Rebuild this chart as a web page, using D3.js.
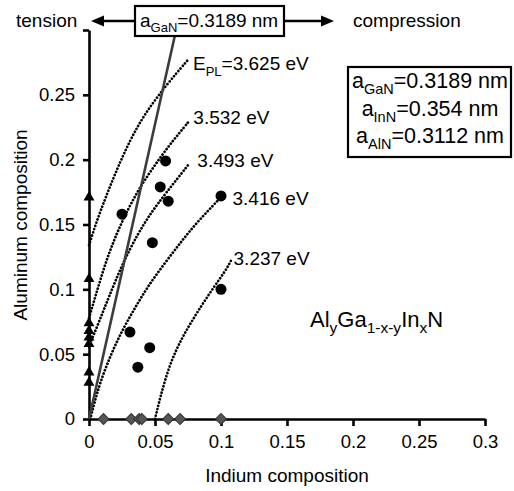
<!DOCTYPE html>
<html>
<head>
<meta charset="utf-8">
<script src="https://cdn.jsdelivr.net/npm/d3@7"></script>
<style>
  body { margin: 0; background: #fff; }
  svg text { font-family: "Liberation Sans", Arial, sans-serif; fill: #000; }
</style>
</head>
<body>
<svg id="chart" width="514" height="491"></svg>
<script>
// ---- data ----
const xTicks = [0, 0.05, 0.1, 0.15, 0.2, 0.25, 0.3];
const xTickLabels = ["0", "0.05", "0.1", "0.15", "0.2", "0.25", "0.3"];
const yTicks = [0, 0.05, 0.1, 0.15, 0.2, 0.25, 0.3];
const yTickLabels = ["0", "0.05", "0.1", "0.15", "0.2", "0.25", ""];

// AlInGaN samples (circles)
const quatIn = [0.058, 0.054, 0.060, 0.025, 0.100, 0.048, 0.031, 0.046, 0.037, 0.100];
const quatAl = [0.199, 0.179, 0.168, 0.158, 0.172, 0.136, 0.067, 0.055, 0.040, 0.100];
// AlGaN samples (triangles, In = 0)
const alganAl = [0.171, 0.108, 0.074, 0.068, 0.063, 0.058, 0.036, 0.028];
// InGaN samples (diamonds, Al = 0)
const inganIn = [0.011, 0.032, 0.038, 0.040, 0.060, 0.069, 0.100];

// lattice matched to GaN
const matchIn = [0, 0.066];
const matchAl = [0, 0.3];

// iso-PL-energy curves
const energies = ["3.625", "3.532", "3.493", "3.416", "3.237"];
const curve3625 = [[0, 0.134], [0.005, 0.150], [0.010, 0.164], [0.020, 0.190], [0.031, 0.215], [0.042, 0.235], [0.058, 0.257], [0.075, 0.277]];
const curve3532 = [[0, 0.078], [0.005, 0.095], [0.012, 0.119], [0.020, 0.141], [0.030, 0.163], [0.040, 0.181], [0.050, 0.196], [0.060, 0.210], [0.068, 0.220], [0.076, 0.230]];
const curve3493 = [[0, 0.056], [0.008, 0.076], [0.015, 0.094], [0.025, 0.119], [0.037, 0.143], [0.047, 0.159], [0.058, 0.174], [0.076, 0.197]];
const curve3416 = [[0.001, 0], [0.004, 0.012], [0.008, 0.027], [0.017, 0.051], [0.026, 0.070], [0.035, 0.086], [0.045, 0.103], [0.058, 0.121], [0.070, 0.137], [0.082, 0.152], [0.100, 0.171]];
const curve3237 = [[0.050, 0], [0.054, 0.017], [0.061, 0.042], [0.070, 0.062], [0.080, 0.079], [0.090, 0.095], [0.099, 0.108], [0.105, 0.117], [0.108, 0.123]];
const curves = [curve3625, curve3532, curve3493, curve3416, curve3237];

// ---- chart ----
const svg = d3.select("#chart");
const FONT = 19;

const x = d3.scaleLinear().domain([0, 0.3]).range([89, 485]);
const y = d3.scaleLinear().domain([0, 0.3]).range([419, 30]);

// writes text made of normal / subscript pieces
function richText(textSel, parts, size, subSize) {
  let shifted = false;
  parts.forEach(p => {
    const isSub = p[1] === "sub";
    const ts = textSel.append("tspan").text(p[0])
      .attr("font-size", isSub ? subSize : size);
    if (isSub && !shifted) { ts.attr("dy", size * 0.28); shifted = true; }
    else if (!isSub && shifted) { ts.attr("dy", -size * 0.28); shifted = false; }
  });
  return textSel;
}

// axes
const xAxis = svg.append("g")
  .attr("transform", `translate(0,${y(0)})`)
  .call(d3.axisBottom(x).tickValues(xTicks).tickFormat((d, i) => xTickLabels[i])
    .tickSize(7).tickSizeOuter(0).tickPadding(9));

const yAxis = svg.append("g")
  .attr("transform", `translate(${x(0)},0)`)
  .call(d3.axisLeft(y).tickValues(yTicks).tickFormat((d, i) => yTickLabels[i])
    .tickSize(6).tickSizeOuter(0).tickPadding(8));

[xAxis, yAxis].forEach(a => {
  a.select(".domain").attr("stroke", "#000").attr("stroke-width", 2.6);
  a.selectAll(".tick line").attr("stroke", "#000").attr("stroke-width", 2.6);
  a.selectAll(".tick text").attr("font-size", 18.5)
    .style("font-family", "'Liberation Sans', Arial, sans-serif");
});

// axis titles
svg.append("text")
  .attr("x", 287).attr("y", 482)
  .attr("text-anchor", "middle")
  .attr("font-size", FONT)
  .text("Indium composition");

svg.append("text")
  .attr("transform", "translate(27,225) rotate(-90)")
  .attr("text-anchor", "middle")
  .attr("font-size", FONT)
  .text("Aluminum composition");

// dotted iso-energy curves
const curveLine = d3.line()
  .x(d => x(d[0]))
  .y(d => y(d[1]))
  .curve(d3.curveBasis);

svg.append("g").selectAll("path")
  .data(curves)
  .enter().append("path")
  .attr("d", curveLine)
  .attr("fill", "none")
  .attr("stroke", "#000")
  .attr("stroke-width", 2.7)
  .attr("stroke-linecap", "round")
  .attr("stroke-dasharray", "0.1,3.3");

// curve labels, placed next to the end of each curve
const labelOffsets = [[5, 10.5], [4, 3], [8, 3.5], [11.5, 8], [2, 5]];
curves.forEach((c, i) => {
  const end = c[c.length - 1];
  const t = svg.append("text")
    .attr("x", x(end[0]) + labelOffsets[i][0])
    .attr("y", y(end[1]) + labelOffsets[i][1])
    .attr("font-size", FONT);
  if (i === 0) {
    richText(t, [["E"], ["PL", "sub"], [`=${energies[i]} eV`]], FONT, 13);
  } else {
    t.text(`${energies[i]} eV`);
  }
});

// line lattice-matched to GaN
svg.append("line")
  .attr("x1", x(matchIn[0])).attr("y1", y(matchAl[0]))
  .attr("x2", x(matchIn[1])).attr("y2", y(matchAl[1]))
  .attr("stroke", "#3c3c3c")
  .attr("stroke-width", 2.6);

// AlGaN triangles on the y axis
svg.append("g").selectAll("path")
  .data(alganAl)
  .enter().append("path")
  .attr("d", d3.symbol(d3.symbolTriangle, 52))
  .attr("transform", d => `translate(${x(0)},${y(d)})`)
  .attr("fill", "#000");

// InGaN diamonds on the x axis
svg.append("g").selectAll("path")
  .data(inganIn)
  .enter().append("path")
  .attr("d", d3.symbol(d3.symbolSquare, 60))
  .attr("transform", d => `translate(${x(d)},${y(0)}) rotate(45)`)
  .attr("fill", "#555")
  .attr("stroke", "#333")
  .attr("stroke-width", 1);

// AlInGaN circles
svg.append("g").selectAll("circle")
  .data(quatIn)
  .enter().append("circle")
  .attr("cx", d => x(d))
  .attr("cy", (d, i) => y(quatAl[i]))
  .attr("r", 5.5)
  .attr("fill", "#000");

// top: tension <- box -> compression
const arrowY = 21;
svg.append("text").attr("x", 16).attr("y", 27).attr("font-size", FONT).text("tension");
svg.append("text").attr("x", 353).attr("y", 27).attr("font-size", FONT).text("compression");

svg.append("line").attr("x1", 135).attr("x2", 100).attr("y1", arrowY).attr("y2", arrowY)
  .attr("stroke", "#000").attr("stroke-width", 2.6);
svg.append("path").attr("d", `M91,${arrowY} L104,${arrowY - 5.5} L104,${arrowY + 5.5} Z`).attr("fill", "#000");
svg.append("line").attr("x1", 284).attr("x2", 322).attr("y1", arrowY).attr("y2", arrowY)
  .attr("stroke", "#000").attr("stroke-width", 2.6);
svg.append("path").attr("d", `M334,${arrowY} L321,${arrowY - 5.5} L321,${arrowY + 5.5} Z`).attr("fill", "#000");

svg.append("rect")
  .attr("x", 135).attr("y", 6).attr("width", 149).attr("height", 30)
  .attr("fill", "#fff").attr("stroke", "#000").attr("stroke-width", 2.2);
richText(svg.append("text").attr("x", 140).attr("y", 27).attr("font-size", FONT),
  [["a"], ["GaN", "sub"], ["=0.3189 nm"]], FONT, 13);

// lattice constants box
svg.append("rect")
  .attr("x", 348).attr("y", 67).attr("width", 163).attr("height", 90)
  .attr("fill", "#fff").attr("stroke", "#000").attr("stroke-width", 2.2);
const constants = [["GaN", "=0.3189 nm"], ["InN", "=0.354 nm"], ["AlN", "=0.3112 nm"]];
constants.forEach((c, i) => {
  richText(svg.append("text")
      .attr("x", 430).attr("y", 88 + i * 27.5)
      .attr("text-anchor", "middle").attr("font-size", 21.5),
    [["a"], [c[0], "sub"], [c[1]]], 21.5, 14.5);
});

// alloy formula
richText(svg.append("text").attr("x", 310).attr("y", 327).attr("font-size", 22),
  [["Al"], ["y", "sub"], ["Ga"], ["1-x-y", "sub"], ["In"], ["x", "sub"], ["N"]], 22, 15.5);
</script>
</body>
</html>
